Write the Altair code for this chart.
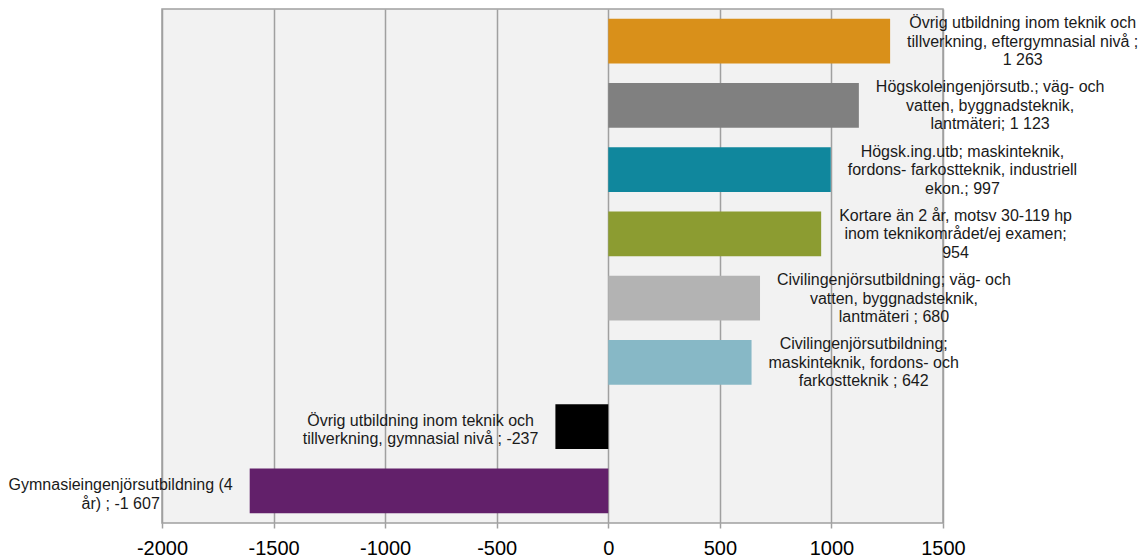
import altair as alt
import pandas as pd

# Net change per education group
labels = [
    "Övrig utbildning inom teknik och\ntillverkning, eftergymnasial nivå ;\n1 263",
    "Högskoleingenjörsutb.; väg- och\nvatten, byggnadsteknik,\nlantmäteri; 1 123",
    "Högsk.ing.utb; maskinteknik,\nfordons- farkostteknik, industriell\nekon.; 997",
    "Kortare än 2 år, motsv 30-119 hp\ninom teknikområdet/ej examen;\n954",
    "Civilingenjörsutbildning; väg- och\nvatten, byggnadsteknik,\nlantmäteri ; 680",
    "Civilingenjörsutbildning;\nmaskinteknik, fordons- och\nfarkostteknik ; 642",
    "Övrig utbildning inom teknik och\ntillverkning, gymnasial nivå ; -237",
    "Gymnasieingenjörsutbildning (4\når) ; -1 607",
]
values = [1263, 1123, 997, 954, 680, 642, -237, -1607]
colors = ["#D9901A", "#808080", "#10879D", "#8C9C31",
          "#B3B3B3", "#87B8C6", "#000000", "#62206A"]
ticks = [-2000, -1500, -1000, -500, 0, 500, 1000, 1500]

X_MIN, X_MAX = -2000, 1500
PLOT_W, PLOT_H = 781, 514
FONT = "Liberation Sans"
LABEL_SIZE = 16
LINE_H = 18.5
LABEL_GAP = 17

# Helvetica/Arial advance widths (1/1000 em) for estimating label widths
_w = {" ": 278, "(": 333, ")": 333, ",": 278, "-": 333, ".": 278, "/": 278,
      ":": 278, ";": 278}
_w.update({d: 556 for d in "0123456789"})
_w.update(dict(zip("ABCDEFGHIJKLMNOPQRSTUVWXYZ",
                   [667, 667, 722, 722, 667, 611, 778, 722, 278, 500, 667, 556, 833,
                    722, 778, 667, 778, 722, 667, 611, 722, 667, 944, 667, 667, 611])))
_w.update(dict(zip("abcdefghijklmnopqrstuvwxyz",
                   [556, 556, 500, 556, 556, 278, 556, 556, 222, 222, 500, 222, 833,
                    556, 556, 556, 556, 333, 500, 278, 556, 500, 722, 500, 500, 500])))
_w.update({"å": 556, "ä": 556, "ö": 556, "Ö": 778, "Å": 667, "Ä": 667})


def text_width(s):
    return max(sum(_w.get(c, 556) for c in line) for line in s.split("\n")) * LABEL_SIZE / 1000


px_per_unit = PLOT_W / (X_MAX - X_MIN)
label_x = []
for lab, v in zip(labels, values):
    shift = (LABEL_GAP + text_width(lab) / 2) / px_per_unit
    label_x.append(v + shift if v >= 0 else v - shift)

df = pd.DataFrame({"category": labels, "value": values, "color": colors,
                   "label_x": label_x,
                   "n_lines": [lab.count("\n") + 1 for lab in labels]})

y_enc = alt.Y("category:N", sort=labels, axis=None,
              scale=alt.Scale(paddingInner=0.3, paddingOuter=0.15))

bars = alt.Chart(df).mark_bar().encode(
    x=alt.X("value:Q",
            scale=alt.Scale(domain=[X_MIN, X_MAX], nice=False, zero=False),
            axis=alt.Axis(values=ticks, title=None, labelExpr="'' + datum.value",
                          grid=True, gridColor="#A0A0A0", gridWidth=1.5,
                          domain=False, tickColor="#A0A0A0", tickWidth=1.5,
                          tickSize=5, labelFont=FONT, labelFontSize=20,
                          labelColor="#000000", labelPadding=10,
                          labelFlush=False, labelOverlap=False)),
    x2=alt.datum(0),
    y=y_enc,
    color=alt.Color("color:N", scale=None),
)


def label_layer(n, nudge=0.0):
    # multi-line labels, centred vertically on their bar
    return alt.Chart(df).transform_filter(
        alt.datum.n_lines == n
    ).mark_text(
        font=FONT, fontSize=LABEL_SIZE, lineBreak="\n", lineHeight=LINE_H,
        align="center", baseline="middle", color="#1A1A1A",
        dy=-(n - 1) * LINE_H / 2 + nudge,
    ).encode(
        x=alt.X("label_x:Q"),
        y=y_enc,
        text="category:N",
    )


chart = alt.layer(bars, label_layer(2, 3.5), label_layer(3, 0.5)).properties(
    width=PLOT_W, height=PLOT_H,
    autosize=alt.AutoSizeParams(type="none"),
    padding={"left": 162, "top": 9, "right": 196, "bottom": 34},
    background="#FFFFFF",
).configure_view(
    fill="#F2F2F2", stroke="#A0A0A0", strokeWidth=1.5,
)

chart.save("out.html", embed_options={"renderer": "svg", "actions": False})
